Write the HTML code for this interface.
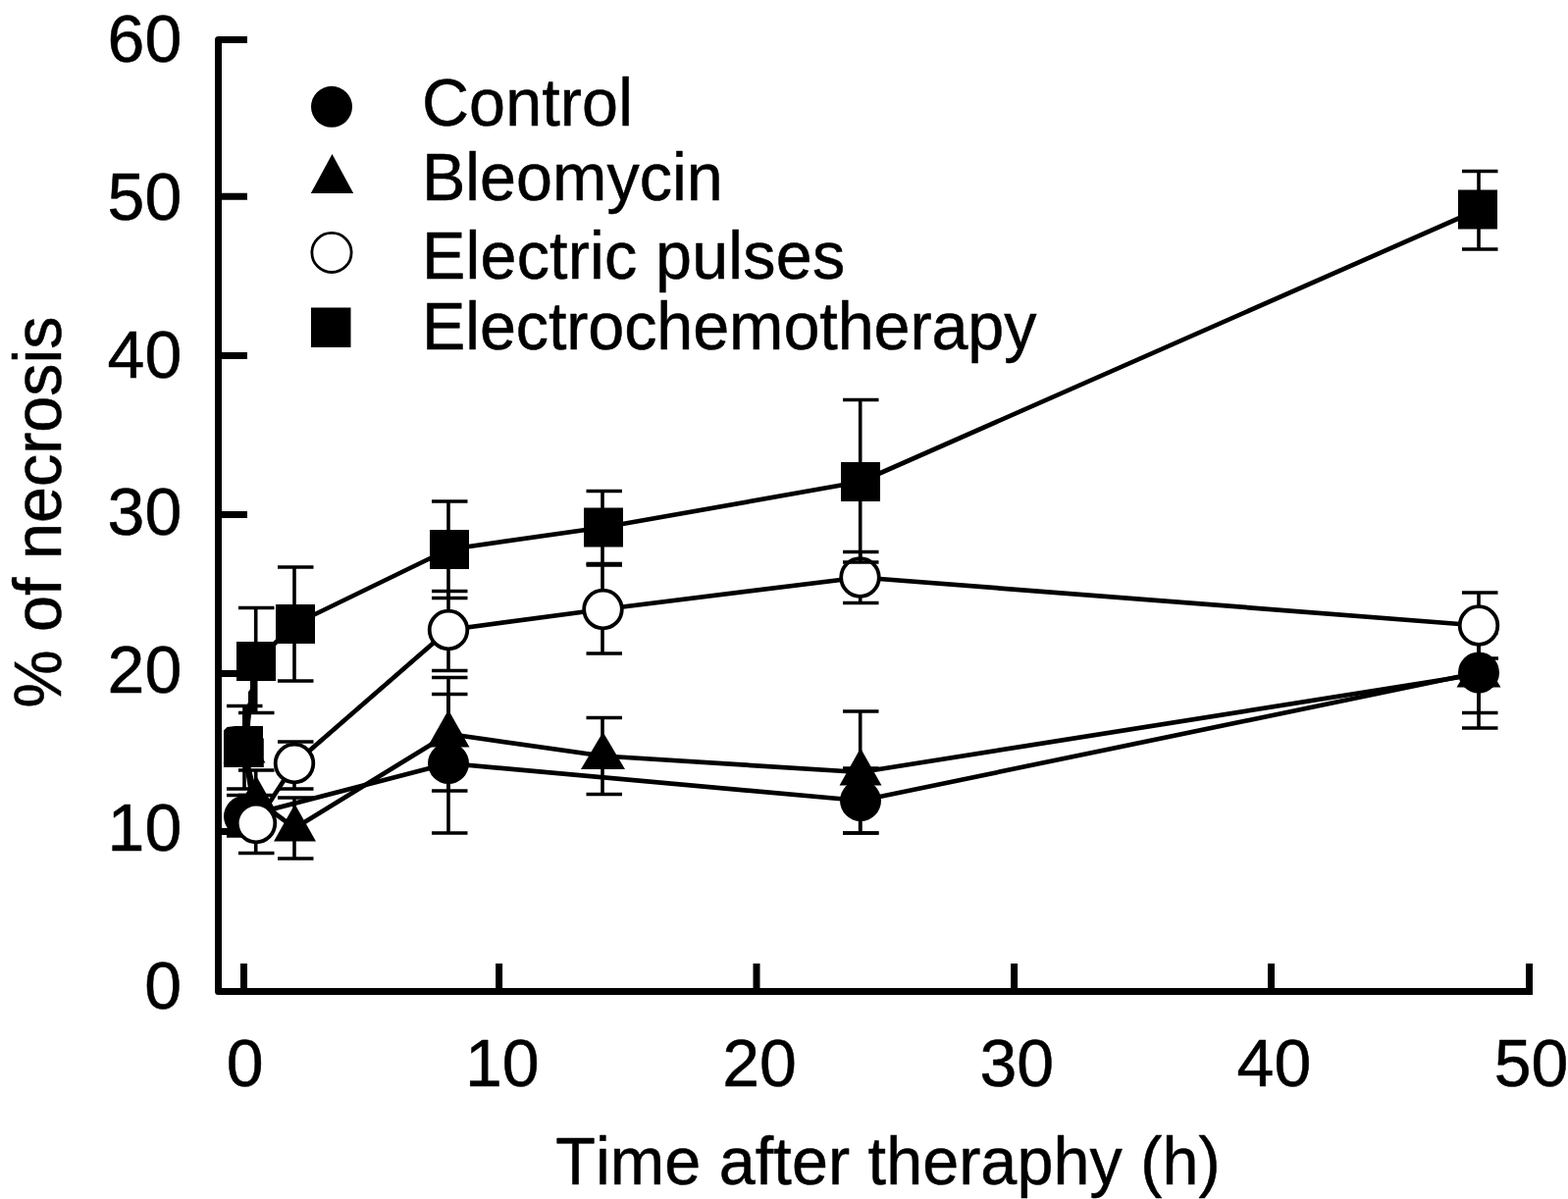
<!DOCTYPE html>
<html lang="en"><head><meta charset="utf-8"><title>% of necrosis vs. time after therapy</title>
<style>html,body{margin:0;padding:0;background:#fff}body{width:1598px;height:1222px;overflow:hidden}svg{display:block}text{font-family:'Liberation Sans', Arial, Helvetica, sans-serif;fill:#000;font-kerning:none;stroke:#000;stroke-width:.5px;stroke-linejoin:round}</style>
</head><body>
<svg width="1598" height="1222" viewBox="0 0 1598 1222">
<rect width="1598" height="1222" fill="#fff"/>
<g id="axes" stroke="#000" stroke-width="7" fill="none">
<path d="M252 40.5H222.5V1010.5H1562M1558.5 1010.5V982" stroke-linejoin="round"/>
<path d="M222.5 200.2H252M222.5 362.4H252M222.5 524.4H252M222.5 686.5H252M222.5 847.5H252"/>
<path d="M248.5 1010.5V982M508.6 1010.5V982M771 1010.5V982M1033.6 1010.5V982M1295.5 1010.5V982"/>
</g>
<g id="control">
<path d="M249 832 L457 778 L877 816 L1507 685.5" stroke="#000" stroke-width="4.7" fill="none" stroke-linejoin="round"/>
<path d="M249 810.5V852M231 810.5h36.5M231 852h36.5" stroke="#000" stroke-width="3.6" fill="none"/>
<path d="M457 707.5V849M440 707.5h36.5M440 849h36.5" stroke="#000" stroke-width="3.6" fill="none"/>
<path d="M876.7 783V849M859 783h36.5M859 849h36.5" stroke="#000" stroke-width="3.6" fill="none"/>
<path d="M1507 645.5V726.5M1490 645.5h36.5M1490 726.5h36.5" stroke="#000" stroke-width="3.6" fill="none"/>
<circle cx="249" cy="832" r="21" fill="#000"/>
<circle cx="457" cy="778" r="21" fill="#000"/>
<circle cx="877" cy="816" r="21" fill="#000"/>
<circle cx="1507" cy="685.5" r="21" fill="#000"/>
</g>
<g id="bleomycin">
<path d="M249 764 L261 815 L300.5 844 L457 748 L614.5 770.5 L877 787 L1507 687" stroke="#000" stroke-width="4.7" fill="none" stroke-linejoin="round"/>
<path d="M260.7 785V845M243 785h36.5M243 845h36.5" stroke="#000" stroke-width="3.6" fill="none"/>
<path d="M300 813V875M283 813h36.5M283 875h36.5" stroke="#000" stroke-width="3.6" fill="none"/>
<path d="M457 690.5V806M440 690.5h36.5M440 806h36.5" stroke="#000" stroke-width="3.6" fill="none"/>
<path d="M614 731.5V809.5M597.5 731.5h36.5M597.5 809.5h36.5" stroke="#000" stroke-width="3.6" fill="none"/>
<path d="M876.7 725V849M859 725h36.5M859 849h36.5" stroke="#000" stroke-width="3.6" fill="none"/>
<path d="M1507 632V742M1490 632h36.5M1490 742h36.5" stroke="#000" stroke-width="3.6" fill="none"/>
<path d="M249 739.5L270.5 777.5H227.5Z" fill="#000"/>
<path d="M261 790.5L282.5 828.5H239.5Z" fill="#000"/>
<path d="M300.5 819.5L322.0 857.5H279.0Z" fill="#000"/>
<path d="M457 723.5L478.5 761.5H435.5Z" fill="#000"/>
<path d="M614.5 746.0L637.0 784.0H592.0Z" fill="#000"/>
<path d="M877 762.5L898.5 800.5H855.5Z" fill="#000"/>
<path d="M1507 662.5L1529.5 700.5H1484.5Z" fill="#000"/>
</g>
<g id="electric-pulses">
<path d="M249 764 L261 839 L300.5 778 L457 642 L614.5 621 L877 588.5 L1507 637.5" stroke="#000" stroke-width="4.7" fill="none" stroke-linejoin="round"/>
<path d="M260.7 810.5V869.5M243 810.5h36.5M243 869.5h36.5" stroke="#000" stroke-width="3.6" fill="none"/>
<path d="M300 756V804M283 756h36.5M283 804h36.5" stroke="#000" stroke-width="3.6" fill="none"/>
<path d="M457 602.5V683.5M440 602.5h36.5M440 683.5h36.5" stroke="#000" stroke-width="3.6" fill="none"/>
<path d="M614 576V666M597.5 576h36.5M597.5 666h36.5" stroke="#000" stroke-width="3.6" fill="none"/>
<path d="M876.7 562.5V614.5M859 562.5h36.5M859 614.5h36.5" stroke="#000" stroke-width="3.6" fill="none"/>
<path d="M1507 604V671M1490 604h36.5M1507 671h20" stroke="#000" stroke-width="3.6" fill="none"/>
<circle cx="261" cy="839" r="19.3" fill="#fff" stroke="#000" stroke-width="3.8"/>
<circle cx="300" cy="778" r="19.3" fill="#fff" stroke="#000" stroke-width="3.8"/>
<circle cx="457" cy="642" r="19.3" fill="#fff" stroke="#000" stroke-width="3.8"/>
<circle cx="614.5" cy="621" r="19.3" fill="#fff" stroke="#000" stroke-width="3.8"/>
<circle cx="876.5" cy="588.5" r="19.3" fill="#fff" stroke="#000" stroke-width="3.8"/>
<circle cx="1507" cy="637.5" r="19.3" fill="#fff" stroke="#000" stroke-width="3.8"/>
</g>
<g id="electrochemotherapy">
<path d="M249 762 L261 674 L300.5 636 L457 560 L614.5 537.5 L877 491 L1507 213.5" stroke="#000" stroke-width="4.7" fill="none" stroke-linejoin="round"/>
<path d="M249 719.5V804M231 719.5h36.5M231 804h36.5" stroke="#000" stroke-width="3.6" fill="none"/>
<path d="M260.7 619.5V726.5M243 619.5h36.5M243 726.5h36.5" stroke="#000" stroke-width="3.6" fill="none"/>
<path d="M300 578V694M283 578h36.5M283 694h36.5" stroke="#000" stroke-width="3.6" fill="none"/>
<path d="M457 511V609.5M440 511h36.5M440 609.5h36.5" stroke="#000" stroke-width="3.6" fill="none"/>
<path d="M614 500.5V574.5M597.5 500.5h36.5M597.5 574.5h36.5" stroke="#000" stroke-width="3.6" fill="none"/>
<path d="M876.7 407.5V573M859 407.5h36.5M859 573h36.5" stroke="#000" stroke-width="3.6" fill="none"/>
<path d="M1507 174.5V254M1490 174.5h36.5M1490 254h36.5" stroke="#000" stroke-width="3.6" fill="none"/>
<path d="M255 694H261.8V726L255.5 728L255 741H247V728L250 722L253 716V705L255 703Z" fill="#000"/>
<path d="M231.5 741L239.5 740H268V752.5H268.8V782H228V744.5Z" fill="#000"/>
<rect x="241.0" y="654.0" width="40" height="40" fill="#000"/>
<rect x="281.0" y="616.0" width="40" height="40" fill="#000"/>
<rect x="438.0" y="540.0" width="40" height="40" fill="#000"/>
<rect x="595.0" y="517.5" width="40" height="40" fill="#000"/>
<rect x="857.0" y="471.0" width="40" height="40" fill="#000"/>
<rect x="1486.0" y="193.5" width="40" height="40" fill="#000"/>
</g>
<g id="ylabels">
<text transform="translate(185.2 62.7)" font-size="68" text-anchor="end">60</text>
<text transform="translate(185.2 223.6)" font-size="68" text-anchor="end">50</text>
<text transform="translate(185.2 384.5)" font-size="68" text-anchor="end">40</text>
<text transform="translate(185.2 545.4)" font-size="68" text-anchor="end">30</text>
<text transform="translate(185.2 706.3)" font-size="68" text-anchor="end">20</text>
<text transform="translate(185.2 867.2)" font-size="68" text-anchor="end">10</text>
<text transform="translate(185.2 1028.1)" font-size="68" text-anchor="end">0</text>
</g>
<g id="xlabels">
<text transform="translate(249.6 1106.6)" font-size="68" text-anchor="middle">0</text>
<text transform="translate(511.8 1106.6)" font-size="68" text-anchor="middle">10</text>
<text transform="translate(774.0 1106.6)" font-size="68" text-anchor="middle">20</text>
<text transform="translate(1036.2 1106.6)" font-size="68" text-anchor="middle">30</text>
<text transform="translate(1298.4 1106.6)" font-size="68" text-anchor="middle">40</text>
<text transform="translate(1560.6 1106.6)" font-size="68" text-anchor="middle">50</text>
</g>
<text transform="translate(905 1207) scale(1 1.035)" font-size="66.5" text-anchor="middle" letter-spacing="0.05" id="xtitle">Time after theraphy (h)</text>
<text transform="translate(62.3 522) rotate(-90) scale(1 1.035)" font-size="66.5" text-anchor="middle" id="ytitle">% of necrosis</text>
<g id="legend">
<circle cx="338" cy="108.8" r="21" fill="#000"/>
<path d="M338.5 157L360.2 197H316.8Z" fill="#000"/>
<circle cx="338" cy="257.4" r="20.1" fill="#fff" stroke="#000" stroke-width="2.8"/>
<rect x="317" y="313.5" width="40.5" height="40.5" fill="#000"/>
<text transform="translate(430 127.5) scale(1 1.035)" font-size="66.5" letter-spacing="0.1">Control</text>
<text transform="translate(430 204) scale(1 1.035)" font-size="66.5">Bleomycin</text>
<text transform="translate(430 284.3) scale(1 1.035)" font-size="66.5" letter-spacing="0.18">Electric pulses</text>
<text transform="translate(430 355.8) scale(1 1.035)" font-size="66.5" letter-spacing="-0.1">Electrochemotherapy</text>
</g>
</svg>
</body></html>
